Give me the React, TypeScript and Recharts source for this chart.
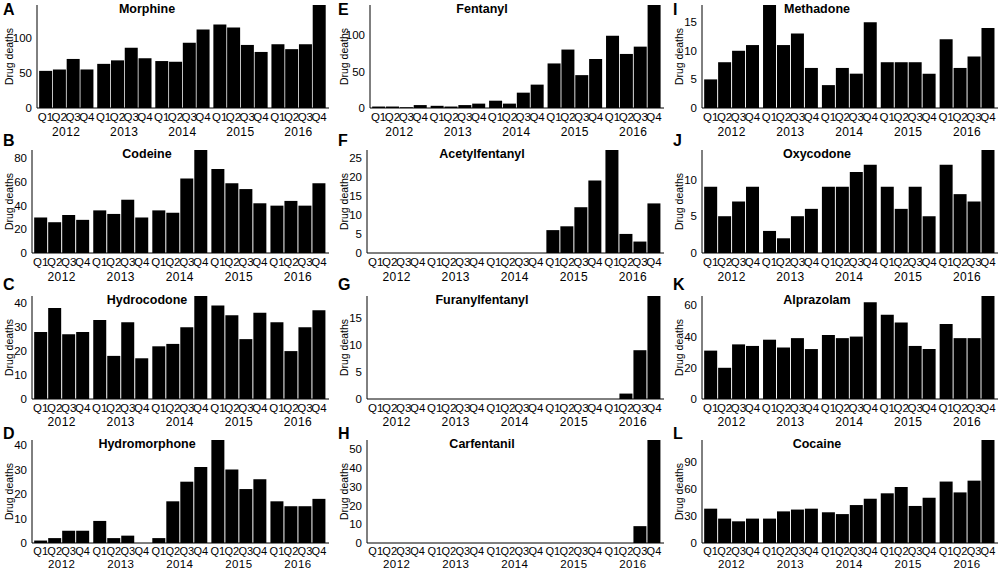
import React from 'react';
import { BarChart, Bar, XAxis, YAxis, Label } from 'recharts';

const years = ['2012', '2013', '2014', '2015', '2016'];
const quarters = ['Q1', 'Q2', 'Q3', 'Q4'];

const morphine = [53, 55, 70, 55, 63, 68, 86, 71, 67, 66, 93, 112, 119, 115, 90, 80, 91, 84, 91, 147];
const codeine = [30, 26, 32, 28, 36, 33, 45, 30, 36, 34, 63, 87, 71, 59, 54, 42, 40, 44, 40, 59];
const hydrocodone = [28, 38, 27, 28, 33, 18, 32, 17, 22, 23, 30, 43, 39, 35, 25, 36, 32, 20, 30, 37];
const hydromorphone = [1, 2, 5, 5, 9, 2, 3, 0, 2, 17, 25, 31, 42, 30, 22, 26, 17, 15, 15, 18];
const fentanyl = [2, 2, 1, 4, 3, 2, 4, 6, 10, 6, 21, 32, 61, 80, 45, 67, 99, 74, 84, 141];
const acetylfentanyl = [0, 0, 0, 0, 0, 0, 0, 0, 0, 0, 0, 0, 6, 7, 12, 19, 27, 5, 3, 13];
const furanylfentanyl = [0, 0, 0, 0, 0, 0, 0, 0, 0, 0, 0, 0, 0, 0, 0, 0, 0, 1, 9, 19];
const carfentanil = [0, 0, 0, 0, 0, 0, 0, 0, 0, 0, 0, 0, 0, 0, 0, 0, 0, 0, 9, 55];
const methadone = [5, 8, 10, 11, 18, 11, 13, 7, 4, 7, 6, 15, 8, 8, 8, 6, 12, 7, 9, 14];
const oxycodone = [9, 5, 7, 9, 3, 2, 5, 6, 9, 9, 11, 12, 9, 6, 9, 5, 12, 8, 7, 14];
const alprazolam = [31, 20, 35, 34, 38, 33, 39, 32, 41, 39, 40, 62, 54, 49, 34, 32, 48, 39, 39, 66];
const cocaine = [38, 27, 24, 27, 27, 35, 37, 38, 34, 32, 42, 49, 55, 62, 41, 50, 68, 56, 69, 114];

const ticks50 = [0, 50, 100];
const ticks20to80 = [0, 20, 40, 60, 80];
const ticks10to40 = [0, 10, 20, 30, 40];
const ticks5to25 = [0, 5, 10, 15, 20, 25];
const ticks5to15 = [0, 5, 10, 15];
const ticks10to50 = [0, 10, 20, 30, 40, 50];
const ticks5to10 = [0, 5, 10];
const ticks20to60 = [0, 20, 40, 60];
const ticks30to90 = [0, 30, 60, 90];

const panels = [
  { letter: 'A', title: 'Morphine', values: morphine, yTicks: ticks50, col: 0, row: 0, yw: 37 },
  { letter: 'B', title: 'Codeine', values: codeine, yTicks: ticks20to80, col: 0, row: 1, yw: 32 },
  { letter: 'C', title: 'Hydrocodone', values: hydrocodone, yTicks: ticks10to40, col: 0, row: 2, yw: 32 },
  { letter: 'D', title: 'Hydromorphone', values: hydromorphone, yTicks: ticks10to40, col: 0, row: 3, yw: 32 },
  { letter: 'E', title: 'Fentanyl', values: fentanyl, yTicks: ticks50, col: 1, row: 0, yw: 35 },
  { letter: 'F', title: 'Acetylfentanyl', values: acetylfentanyl, yTicks: ticks5to25, col: 1, row: 1, yw: 32 },
  { letter: 'G', title: 'Furanylfentanyl', values: furanylfentanyl, yTicks: ticks5to15, col: 1, row: 2, yw: 32 },
  { letter: 'H', title: 'Carfentanil', values: carfentanil, yTicks: ticks10to50, col: 1, row: 3, yw: 32 },
  { letter: 'I', title: 'Methadone', values: methadone, yTicks: ticks5to15, col: 2, row: 0, yw: 32 },
  { letter: 'J', title: 'Oxycodone', values: oxycodone, yTicks: ticks5to10, col: 2, row: 1, yw: 32 },
  { letter: 'K', title: 'Alprazolam', values: alprazolam, yTicks: ticks20to60, col: 2, row: 2, yw: 32 },
  { letter: 'L', title: 'Cocaine', values: cocaine, yTicks: ticks30to90, col: 2, row: 3, yw: 32 },
];

const YEAR_SPAN = 4.22; // quarter slots plus the gap between years
const qPositions = years.flatMap((_, yi) => quarters.map((_, qi) => yi * YEAR_SPAN + qi));
const yearPositions = years.map((_, yi) => yi * YEAR_SPAN + 1.5);
const X_MIN = -0.62;
const X_MAX = (years.length - 1) * YEAR_SPAN + 3.5 + 0.22;

const colLeft = [0, 335, 670];
const colWidth = [335, 335, 330];
const colRightMargin = [6, 6, 2];
const rowTop = [0, 145, 291, 435];
const letterTop = [2, 133, 277, 426];
const qAxisHeight = [14, 14.5, 13.5, 13];
const qFont = [11.5, 11.5, 11.5, 11];
const yearFont = [12, 12, 12, 11.5];
const axisMargin = [5, 5, 5, 4];
const BOTTOM_AXES = 37;

const FONT = '"Liberation Sans", Arial, Helvetica, sans-serif';

const fmtQ = (v: number) => {
  const i = qPositions.indexOf(v);
  return i >= 0 ? quarters[i % 4] : '';
};
const fmtY = (v: number) => {
  const i = yearPositions.indexOf(v);
  return i >= 0 ? years[i] : '';
};

const YLabel = (props: any) => {
  const vb = props && props.viewBox ? props.viewBox : {};
  const top = typeof vb.y === 'number' ? vb.y : 5;
  const h = typeof vb.height === 'number' && vb.height > 0 ? vb.height : 103;
  const cx = 9;
  const cy = top + h / 2;
  return (
    <text
      x={cx}
      y={cy}
      transform={`rotate(-90 ${cx} ${cy})`}
      textAnchor="middle"
      dominantBaseline="central"
      fontSize={10.5}
      fill="#000"
    >
      Drug deaths
    </text>
  );
};

function Panel({ p }: { p: (typeof panels)[number] }) {
  const data = p.values.map((v, i) => ({ x: qPositions[i], v }));
  const qh = qAxisHeight[p.row];
  return (
    <div style={{ position: 'absolute', left: colLeft[p.col], top: rowTop[p.row], width: colWidth[p.col], height: 145 }}>
      <BarChart
        width={colWidth[p.col]}
        height={145}
        data={data}
        margin={{ top: 5, right: colRightMargin[p.col], bottom: 0, left: 0 }}
        barCategoryGap={0.5}
      >
        <XAxis
          dataKey="x"
          type="number"
          domain={[X_MIN, X_MAX]}
          ticks={qPositions}
          tickFormatter={fmtQ}
          interval={0}
          axisLine={{ stroke: '#000', strokeWidth: 1 }}
          tickLine={false}
          tickSize={0}
          tickMargin={axisMargin[p.row]}
          height={qh}
          tick={{ fontSize: qFont[p.row], fill: '#000' }}
        />
        <XAxis
          xAxisId="yr"
          dataKey="x"
          type="number"
          domain={[X_MIN, X_MAX]}
          ticks={yearPositions}
          tickFormatter={fmtY}
          interval={0}
          axisLine={false}
          tickLine={false}
          tickSize={0}
          tickMargin={axisMargin[p.row]}
          height={BOTTOM_AXES - qh}
          tick={{ fontSize: yearFont[p.row], fill: '#000', letterSpacing: 0.4 }}
        />
        <YAxis
          width={p.yw}
          type="number"
          domain={[0, 'dataMax']}
          ticks={p.yTicks}
          interval={0}
          axisLine={{ stroke: '#000', strokeWidth: 1 }}
          tickLine={false}
          tickSize={0}
          tickMargin={5}
          tick={{ fontSize: 11.5, fill: '#000' }}
        >
          <Label content={YLabel} />
        </YAxis>
        <Bar dataKey="v" fill="#000" isAnimationActive={false} />
      </BarChart>
      <div
        style={{
          position: 'absolute',
          left: 147,
          top: 3,
          transform: 'translateX(-50%)',
          fontWeight: 'bold',
          fontSize: 12.5,
          lineHeight: '12px',
          whiteSpace: 'nowrap',
          color: '#000',
        }}
      >
        {p.title}
      </div>
    </div>
  );
}

export default function App() {
  return (
    <div
      style={{
        position: 'fixed',
        left: 0,
        top: 0,
        width: 1000,
        height: 573,
        background: '#fff',
        fontFamily: FONT,
        overflow: 'hidden',
      }}
    >
      {panels.map((p) => (
        <Panel key={p.letter} p={p} />
      ))}
      {panels.map((p) => (
        <div
          key={'L' + p.letter}
          style={{
            position: 'absolute',
            left: colLeft[p.col] + 3,
            top: letterTop[p.row],
            fontWeight: 'bold',
            fontSize: 16,
            lineHeight: '16px',
            color: '#000',
          }}
        >
          {p.letter}
        </div>
      ))}
    </div>
  );
}
